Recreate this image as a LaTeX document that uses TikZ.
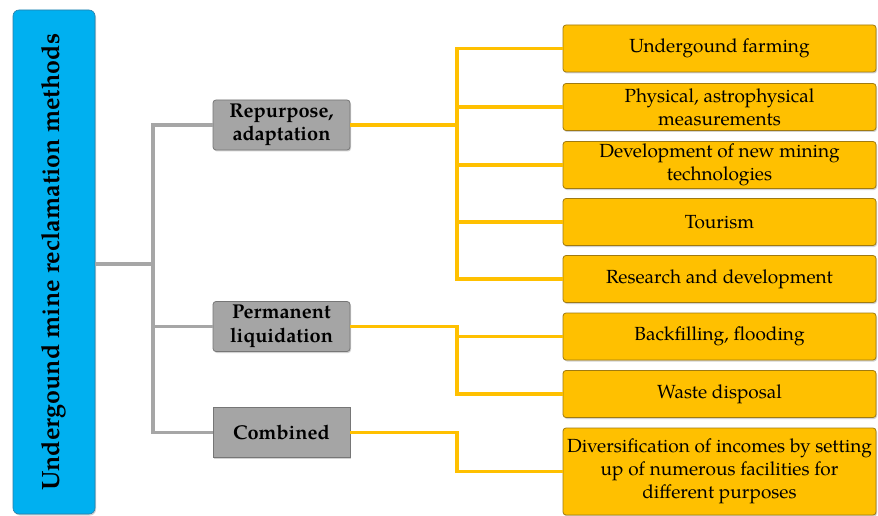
\documentclass[tikz,border=0pt]{standalone}
\usepackage{fontspec}
\setmainfont{TeX Gyre Pagella}
\usetikzlibrary{shadows}
\definecolor{skyblue}{HTML}{00B0F0}
\definecolor{skyedge}{HTML}{2A7FA8}
\definecolor{amber}{HTML}{FFC000}
\definecolor{amberedge}{HTML}{A07A10}
\definecolor{greyfill}{HTML}{A5A5A5}
\definecolor{greyedge}{HTML}{767676}
\definecolor{linkgrey}{HTML}{A6A6A6}
\tikzset{
  boxshadow/.style={drop shadow={shadow xshift=1pt, shadow yshift=-1.5pt, opacity=0.35}},
  rootbox/.style={draw=skyedge, line width=0.6pt, fill=skyblue, rounded corners=6pt,
    minimum width=82pt, minimum height=504pt, inner sep=0pt, boxshadow},
  groupbox/.style={draw=greyedge, line width=0.8pt, fill=greyfill, rounded corners=3pt,
    minimum width=137pt, minimum height=50pt, inner sep=0pt, align=center,
    font=\fontsize{20}{23.5}\selectfont\bfseries, boxshadow},
  itembox/.style={draw=amberedge, line width=0.8pt, fill=amber, rounded corners=3pt,
    minimum width=313pt, minimum height=47pt, inner sep=0pt, align=center,
    font=\fontsize{19}{23}\selectfont, boxshadow},
  greylink/.style={draw=linkgrey, line width=3.2pt},
  amberlink/.style={draw=amber, line width=3.2pt},
}
\begin{document}
\begin{tikzpicture}[x=1pt, y=-1pt]
  \useasboundingbox (0,0) rectangle (878,516);
  \fill[white] (0,0) rectangle (878,516);

  % root
  \node[rootbox] (root) at (54,262) {};
  \node[rotate=90, font=\fontsize{25}{30}\selectfont\bfseries] (roottext) at (54,262)
    {Undergound mine reclamation methods};

  % method groups
  \node[groupbox] (rep)  at (281.5,125)   {Repurpose,\\adaptation};
  \node[groupbox] (perm) at (281.5,326.5) {Permanent\\liquidation};
  \node[groupbox, rounded corners=0pt] (comb) at (281.5,432.5) {Combined};

  % outcomes
  \node[itembox] (y1) at (719.5,48.5)  {Undergound farming};
  \node[itembox] (y2) at (719.5,107)   {Physical, astrophysical\\measurements};
  \node[itembox] (y3) at (719.5,165)   {Development of new mining\\technologies};
  \node[itembox] (y4) at (719.5,222)   {Tourism};
  \node[itembox] (y5) at (719.5,279)   {Research and development};
  \node[itembox] (y6) at (719.5,336.5) {Backfilling, flooding};
  \node[itembox] (y7) at (719.5,394)   {Waste disposal};
  \node[itembox, minimum height=87pt] (y8) at (719.5,471.5)
    {Diversification of incomes by setting\\up of numerous facilities for\\different purposes};

  % junction columns
  \coordinate (gj) at (153,264);
  \coordinate (yj) at (457,0);

  % grey tree
  \draw[greylink] (root.east |- gj) -- (gj);
  \draw[greylink, line cap=rect] (gj |- rep.west) -- (gj |- comb.west);
  \draw[greylink] (gj |- rep.west) -- (rep.west);
  \draw[greylink] (gj |- perm.west) -- (perm.west);
  \draw[greylink] (gj |- comb.west) -- (comb.west);

  % amber tree: repurpose
  \draw[amberlink] (rep.east) -- (rep.east -| yj);
  \draw[amberlink, line cap=rect] (yj |- y1.west) -- (yj |- y5.west);
  \foreach \k in {y1,y2,y3,y4,y5} \draw[amberlink] (yj |- \k.west) -- (\k.west);

  % amber tree: permanent liquidation
  \draw[amberlink, line join=miter] (perm.east) -- (perm.east -| yj) -- (yj |- y7.west) -- (y7.west);
  \draw[amberlink] (yj |- y6.west) -- (y6.west);

  % amber tree: combined
  \draw[amberlink, line join=miter] (comb.east) -- (comb.east -| yj) -- (yj |- y8.west) -- (y8.west);
\end{tikzpicture}
\end{document}
